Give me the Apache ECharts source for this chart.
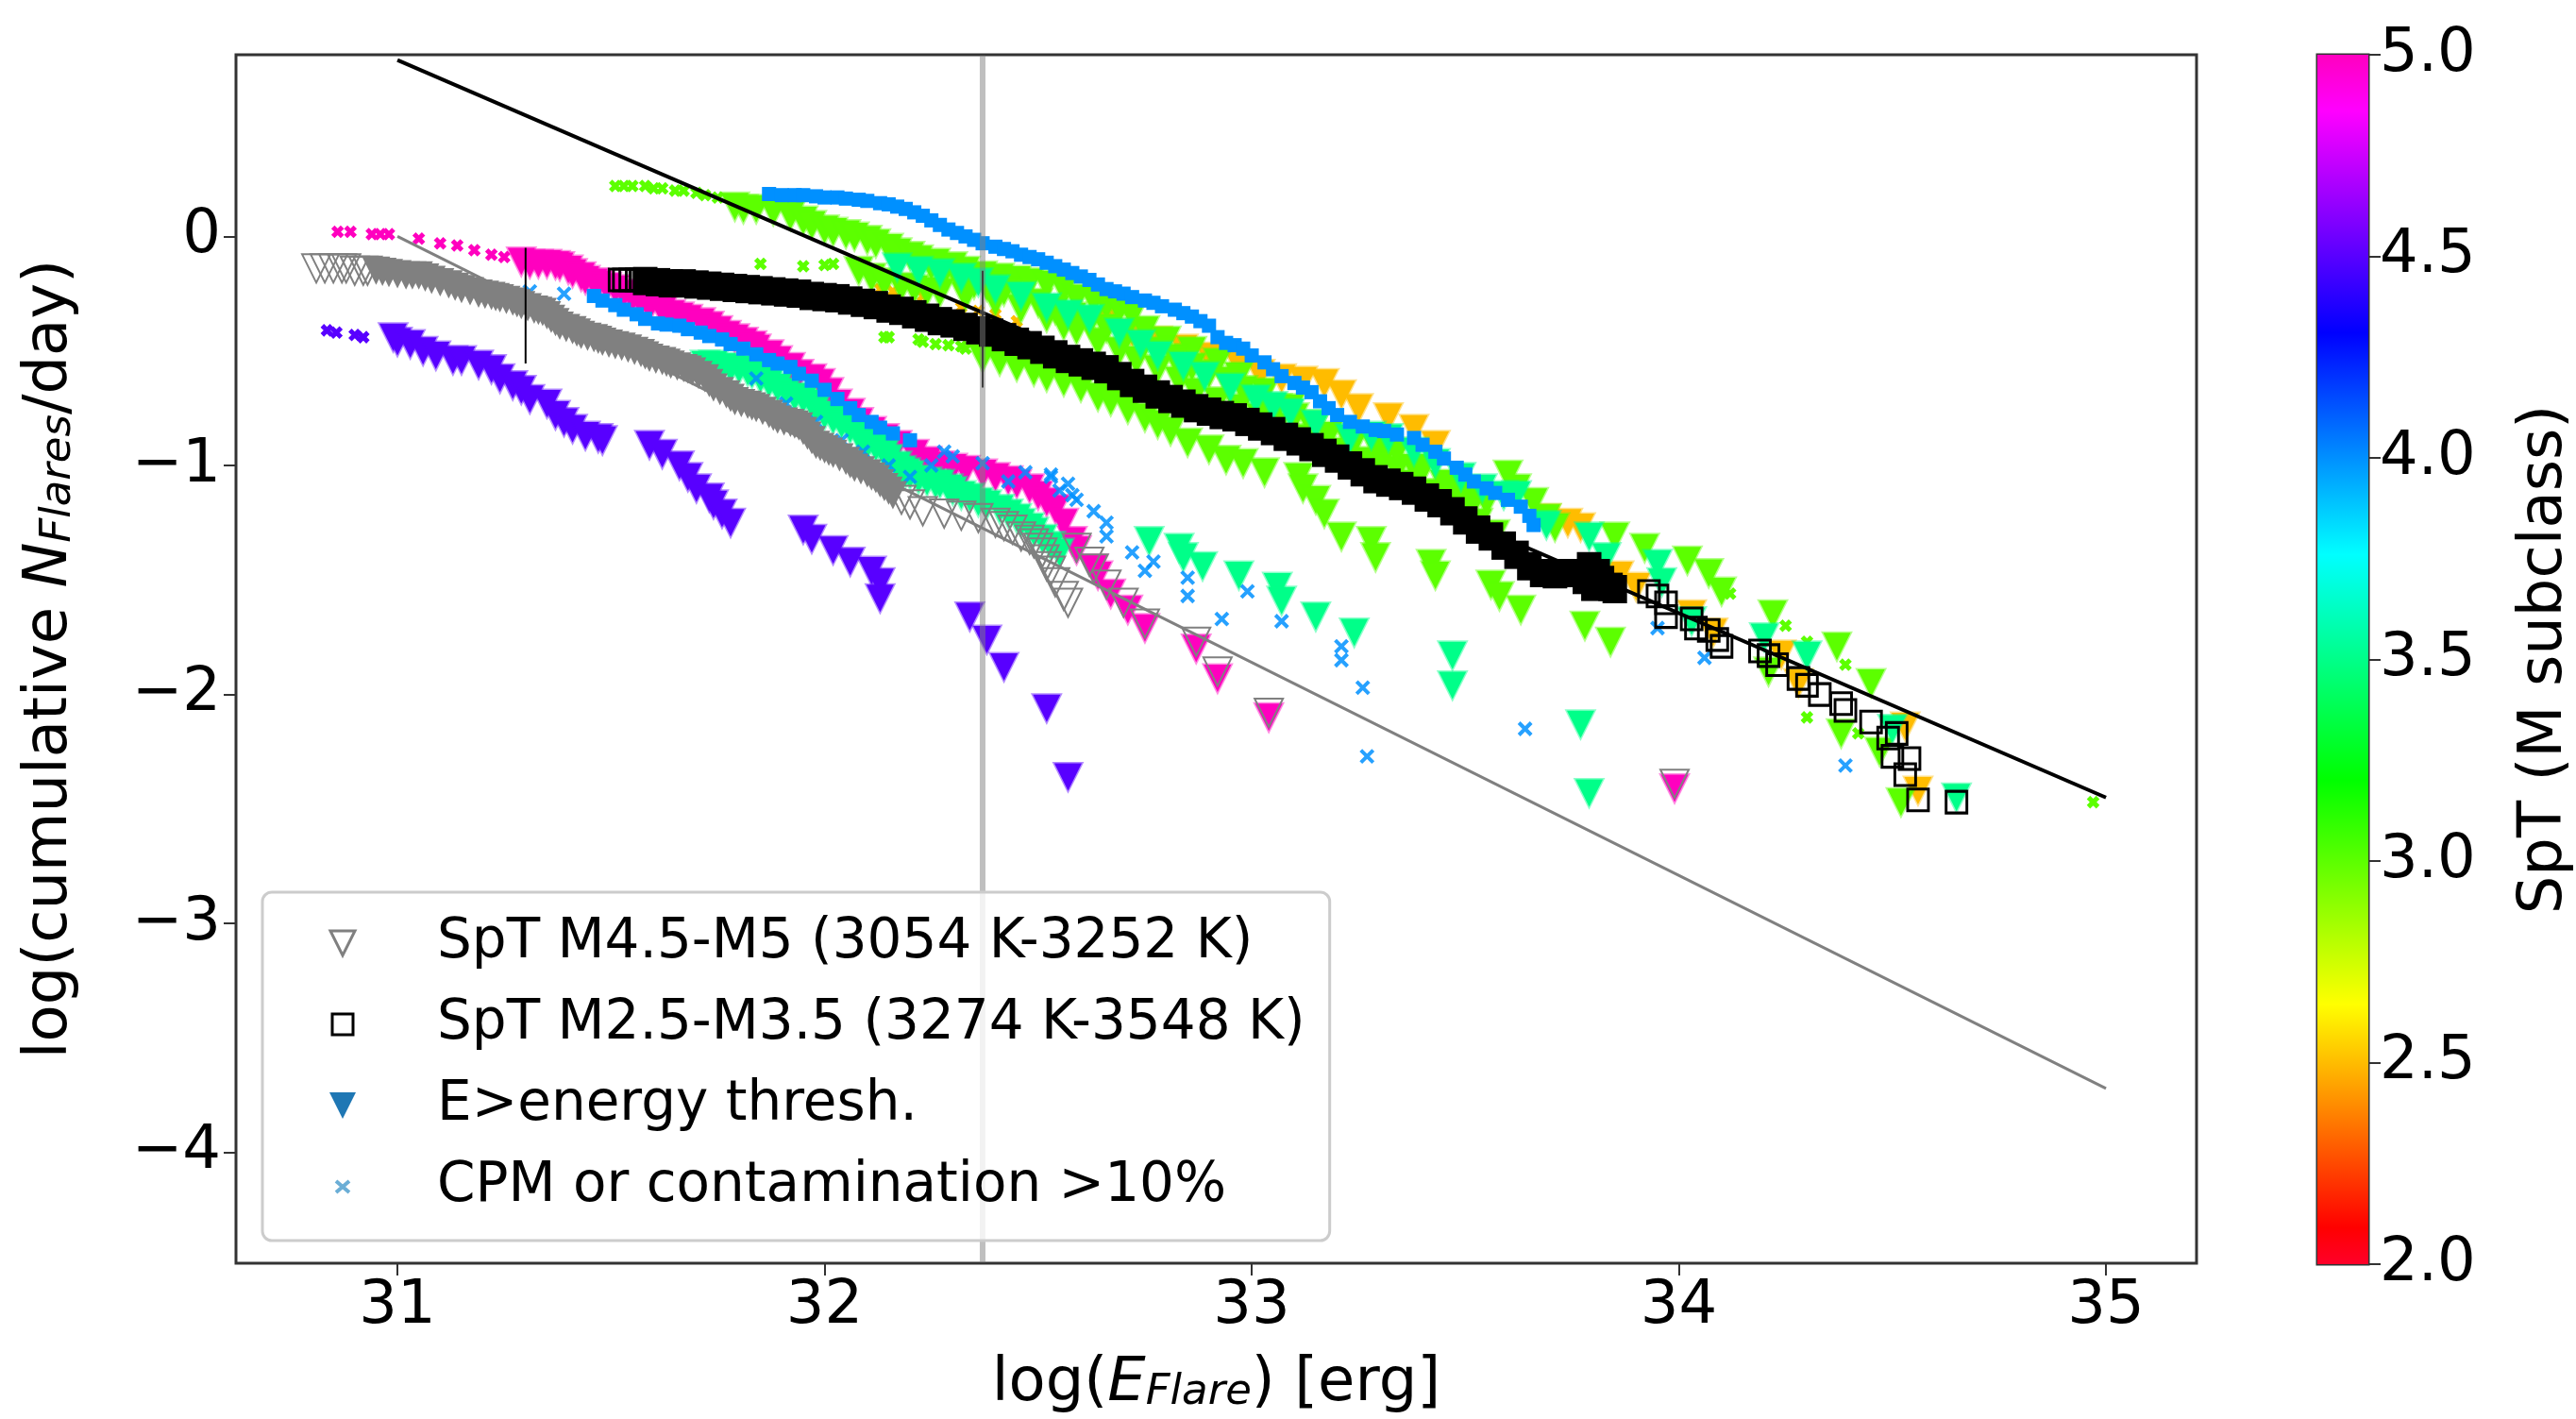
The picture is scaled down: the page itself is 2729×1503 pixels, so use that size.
<!DOCTYPE html>
<html><head><meta charset="utf-8">
<style>html,body{margin:0;padding:0;background:#fff}#c{width:2729px;height:1503px}</style>
<script src="https://cdn.jsdelivr.net/npm/echarts@6/dist/echarts.min.js"></script>
</head><body><div id="c"></div>
<script>
// --- colour scale (SpT -> colour), anchors
const cbarStops=[[2.0,[255,0,41]],[2.09,[255,0,0]],[2.645,[255,255,0]],[3.2,[0,255,0]],[3.76,[0,255,255]],[4.31,[0,0,255]],[4.86,[255,0,255]],[5.0,[255,0,191]]];
const xTicks=[31,32,33,34,35];
const yTicks=[0,-1,-2,-3,-4];
const cbarTicks=[2,2.5,3,3.5,4,4.5,5];

// --- reference lines
const blackLine=[[31,0.77],[35,-2.45]];
const grayLine=[[31,0.0],[35,-3.72]];
const threshLine=[[32.37,-4.48],[32.37,0.79]];
const errLeft=[[31.30,-0.05],[31.30,-0.555]];
const errRight=[[32.37,-0.15],[32.37,-0.66]];

// --- M4.5 points
const m45Tri=[[30.99,-0.44],[31.00,-0.46],[31.03,-0.47],[31.06,-0.50],[31.09,-0.52],[31.13,-0.54],[31.15,-0.54],[31.19,-0.56],[31.22,-0.58],[31.24,-0.62],[31.27,-0.65],[31.29,-0.67],[31.31,-0.71],[31.35,-0.73],[31.37,-0.78],[31.39,-0.81],[31.41,-0.84],[31.44,-0.87],[31.47,-0.88],[31.48,-0.89],[31.59,-0.91],[31.62,-0.95],[31.66,-1.00],[31.68,-1.05],[31.70,-1.10],[31.73,-1.14],[31.74,-1.17],[31.76,-1.21],[31.78,-1.25],[31.95,-1.28],[31.97,-1.32],[32.02,-1.37],[32.06,-1.42],[32.11,-1.46],[32.13,-1.51],[32.13,-1.58],[32.34,-1.66],[32.38,-1.76],[32.42,-1.88],[32.52,-2.06],[32.57,-2.36]];
const m45X=[[30.835,-0.41],[30.857,-0.42],[30.90,-0.43],[30.92,-0.44]];
// --- M5 points
const m5X=[[30.86,0.02],[30.89,0.02],[30.94,0.01],[30.96,0.01],[30.98,0.01],[31.05,-0.01],[31.10,-0.03],[31.14,-0.04],[31.18,-0.06],[31.22,-0.08],[31.25,-0.09]];
const m5Tri=[[31.29,-0.11],[31.31,-0.12],[31.35,-0.12],[31.38,-0.13],[31.41,-0.16],[31.44,-0.19],[31.47,-0.21],[31.51,-0.23],[31.55,-0.27],[31.59,-0.31],[31.64,-0.34],[31.68,-0.36],[31.73,-0.39],[31.77,-0.43],[31.81,-0.46],[31.84,-0.49],[31.89,-0.54],[31.94,-0.60],[31.99,-0.64],[32.03,-0.73],[32.08,-0.81],[32.14,-0.88],[32.21,-0.95],[32.27,-1.00],[32.33,-1.02],[32.40,-1.05],[32.45,-1.08],[32.50,-1.13],[32.54,-1.19],[32.56,-1.25],[32.58,-1.33],[32.59,-1.37],[32.63,-1.45],[32.64,-1.48],[32.67,-1.56],[32.71,-1.63],[32.75,-1.71],[32.87,-1.80],[32.92,-1.93],[33.04,-2.10],[33.99,-2.41]];
const m5Tri2=[[31.33,-0.12],[31.37,-0.125],[31.40,-0.145],[31.43,-0.175],[31.46,-0.20],[31.49,-0.22],[31.53,-0.25],[31.57,-0.29],[31.62,-0.325],[31.66,-0.35],[31.71,-0.375],[31.75,-0.41],[31.79,-0.445],[31.83,-0.475],[31.87,-0.515],[31.92,-0.57],[31.97,-0.62],[32.01,-0.68],[32.06,-0.77],[32.11,-0.85],[32.17,-0.91],[32.24,-0.98],[32.30,-1.01],[32.37,-1.035],[32.43,-1.065],[32.48,-1.10],[32.52,-1.16]];
// --- M3.5 points
const m35Tri=[[31.72,-0.56],[31.76,-0.57],[31.80,-0.58],[31.83,-0.60],[31.87,-0.64],[31.91,-0.68],[31.95,-0.71],[31.98,-0.75],[32.02,-0.80],[32.06,-0.84],[32.09,-0.90],[32.12,-0.92],[32.15,-0.97],[32.18,-1.02],[32.20,-1.04],[32.24,-1.07],[32.27,-1.08],[32.30,-1.11],[32.34,-1.14],[32.38,-1.17],[32.43,-1.21],[32.46,-1.25],[32.49,-1.29],[32.53,-1.35],[32.55,-1.38],[32.76,-1.33],[32.83,-1.36],[32.84,-1.40],[32.885,-1.44],[32.97,-1.48],[33.06,-1.53],[33.07,-1.59],[33.15,-1.66],[33.24,-1.73],[33.47,-1.83],[33.47,-1.96],[33.77,-2.13],[33.79,-2.43]];
const m35Tri2=[[31.74,-0.56],[31.78,-0.575],[31.82,-0.59],[31.85,-0.62],[31.89,-0.66],[31.93,-0.70],[31.97,-0.73],[32.00,-0.78],[32.04,-0.82],[32.08,-0.87],[32.10,-0.91],[32.14,-0.95],[32.17,-1.00],[32.19,-1.03],[32.22,-1.06],[32.26,-1.08],[32.29,-1.10],[32.32,-1.13],[32.36,-1.16],[32.41,-1.19],[32.45,-1.23],[32.48,-1.27],[32.51,-1.32]];
const m35TriUpper=[[32.17,-0.135],[32.22,-0.15],[32.27,-0.16],[32.32,-0.18],[32.36,-0.20],[32.40,-0.23],[32.46,-0.26],[32.52,-0.31],[32.57,-0.34],[32.62,-0.36],[32.69,-0.42],[32.74,-0.47],[32.78,-0.52],[32.84,-0.565],[32.89,-0.61],[32.95,-0.66],[33.01,-0.71],[33.05,-0.74],[33.09,-0.77],[33.15,-0.82],[33.23,-0.88],[33.28,-0.87],[33.32,-0.88],[33.38,-0.94],[33.43,-0.99],[33.49,-1.05],[33.54,-1.10],[33.59,-1.13],[33.62,-1.13],[33.69,-1.26],[33.79,-1.31],[33.83,-1.40],[33.95,-1.43],[33.96,-1.51],[34.03,-1.68],[34.20,-1.75],[34.30,-1.83],[34.50,-2.15],[34.65,-2.45]];
// --- M3 points
const m3X=[[31.51,0.22],[31.53,0.22],[31.55,0.22],[31.58,0.22],[31.60,0.21],[31.62,0.21],[31.65,0.20],[31.67,0.20],[31.70,0.19],[31.72,0.18],[31.75,0.17],[31.85,-0.12],[31.95,-0.13],[32.00,-0.125],[32.02,-0.12],[32.14,-0.44],[32.15,-0.44],[32.22,-0.45],[32.23,-0.46],[32.26,-0.47],[32.29,-0.475],[32.32,-0.48],[32.33,-0.49],[34.25,-1.70],[34.30,-1.77],[34.39,-1.87],[34.30,-2.10],[34.12,-1.56],[34.42,-2.17],[34.97,-2.47]];
const m3TriTop=[[31.79,0.13],[31.81,0.12],[31.84,0.12],[31.88,0.11],[31.92,0.09],[31.95,0.07],[31.97,0.05],[32.00,0.03],[32.02,0.02],[32.05,0.01],[32.07,0.0],[32.10,-0.015],[32.12,-0.03],[32.15,-0.05],[32.17,-0.07],[32.20,-0.085],[32.22,-0.10],[32.26,-0.115],[32.30,-0.13],[32.33,-0.15],[32.37,-0.17],[32.41,-0.18],[32.45,-0.19],[32.48,-0.20],[32.52,-0.21],[32.56,-0.23],[32.59,-0.27],[32.63,-0.28],[32.66,-0.30],[32.69,-0.32],[32.72,-0.345],[32.75,-0.41],[32.80,-0.455],[32.86,-0.50],[32.92,-0.55],[32.97,-0.61],[33.03,-0.68],[33.09,-0.75],[33.15,-0.82],[33.23,-0.90],[33.31,-0.93],[33.38,-1.01],[33.46,-1.085],[33.52,-1.16],[33.60,-1.04],[33.62,-1.10],[33.66,-1.16],[33.69,-1.23],[33.71,-1.27]];
const m3TriFill=[[32.25,-0.13],[32.28,-0.16],[32.31,-0.17],[32.35,-0.21],[32.38,-0.22],[32.42,-0.24],[32.46,-0.27],[32.50,-0.29],[32.54,-0.32],[32.58,-0.35],[32.62,-0.38],[32.66,-0.40],[32.70,-0.43],[32.74,-0.47],[32.78,-0.50],[32.82,-0.53],[32.86,-0.57],[32.90,-0.60],[32.94,-0.63],[32.98,-0.67],[33.02,-0.71],[33.06,-0.75],[33.10,-0.79],[33.14,-0.83],[33.18,-0.87],[33.22,-0.95],[33.26,-0.98],[33.30,-1.00],[33.34,-1.02],[33.38,-1.08],[33.42,-1.12],[33.46,-1.15],[33.50,-1.20],[33.53,-1.25],[33.57,-1.30]];
const m3TriMid=[[32.08,-0.15],[32.11,-0.18],[32.14,-0.20],[32.18,-0.22],[32.21,-0.23],[32.24,-0.24],[32.27,-0.245],[32.33,-0.26],[32.40,-0.285],[32.46,-0.315],[32.52,-0.355],[32.56,-0.39],[32.59,-0.41],[32.64,-0.46],[32.69,-0.50],[32.73,-0.54],[32.78,-0.58],[32.83,-0.63],[32.87,-0.68],[32.92,-0.72],[32.97,-0.75],[33.02,-0.79],[33.06,-0.83],[33.12,-0.88],[33.18,-0.94],[33.24,-0.90],[33.29,-0.92],[33.34,-0.94],[33.40,-1.02],[33.45,-1.08],[33.49,-1.13],[33.55,-1.16]];
const m3TriLow=[[32.37,-0.53],[32.41,-0.545],[32.45,-0.57],[32.49,-0.59],[32.52,-0.615],[32.56,-0.635],[32.60,-0.66],[32.64,-0.70],[32.67,-0.72],[32.71,-0.755],[32.75,-0.79],[32.78,-0.82],[32.81,-0.85],[32.85,-0.90],[32.90,-0.93],[32.94,-0.975],[32.98,-0.99],[33.03,-1.03],[33.11,-1.05],[33.12,-1.10],[33.15,-1.15],[33.17,-1.21],[33.21,-1.31],[33.28,-1.33],[33.29,-1.40],[33.42,-1.43],[33.43,-1.48],[33.56,-1.52],[33.58,-1.57],[33.63,-1.63],[33.78,-1.70],[33.84,-1.77],[33.85,-1.31],[33.92,-1.36],[34.02,-1.415],[34.07,-1.47],[34.10,-1.55],[34.22,-1.65],[34.37,-1.79],[34.45,-1.95],[34.38,-2.17],[34.52,-2.47],[34.21,-1.90],[34.47,-2.25]];
// --- M2.5 points
const m25X=[[32.13,-0.23],[32.16,-0.24],[32.23,-0.26],[32.32,-0.31],[32.36,-0.325],[32.40,-0.34],[32.45,-0.37]];
const m25Tri=[[32.66,-0.37],[32.72,-0.42],[32.78,-0.455],[32.84,-0.49],[32.90,-0.525],[32.97,-0.56],[33.02,-0.60],[33.07,-0.62],[33.12,-0.63],[33.17,-0.64],[33.21,-0.69],[33.25,-0.75],[33.32,-0.79],[33.38,-0.84],[33.43,-0.91],[33.69,-1.23],[33.74,-1.25],[33.77,-1.27],[33.86,-1.48],[33.90,-1.53],[34.03,-1.65],[34.08,-1.73],[34.24,-1.825],[34.28,-1.95],[34.53,-2.14],[34.56,-2.42]];
// --- M4 points: dense contaminated runs and the isolated crosses
const m4Band=[[31.87,0.185],[31.90,0.18],[31.93,0.18],[31.95,0.18],[31.98,0.175],[32.00,0.17],[32.03,0.17],[32.05,0.165],[32.08,0.16],[32.10,0.155],[32.13,0.145],[32.15,0.14],[32.17,0.13],[32.19,0.12],[32.21,0.105],[32.23,0.09],[32.25,0.07],[32.27,0.05],[32.29,0.03],[32.31,0.015],[32.33,0.0],[32.35,-0.015],[32.37,-0.03],[32.40,-0.045],[32.42,-0.055],[32.44,-0.065],[32.46,-0.08],[32.48,-0.09],[32.50,-0.10],[32.52,-0.115],[32.54,-0.13],[32.56,-0.145],[32.58,-0.16],[32.60,-0.175],[32.62,-0.19],[32.64,-0.21],[32.66,-0.23],[32.68,-0.24],[32.70,-0.25],[32.72,-0.265],[32.75,-0.28],[32.77,-0.29],[32.79,-0.305],[32.82,-0.32],[32.84,-0.335],[32.86,-0.35],[32.88,-0.37],[32.90,-0.39],[32.92,-0.44],[32.94,-0.465],[32.96,-0.475],[32.98,-0.49],[33.00,-0.52],[33.03,-0.55],[33.05,-0.58],[33.07,-0.61],[33.10,-0.64],[33.12,-0.66],[33.14,-0.68],[33.16,-0.72],[33.18,-0.75],[33.20,-0.78],[33.23,-0.81],[33.26,-0.83],[33.29,-0.845],[33.31,-0.85],[33.34,-0.865],[33.38,-0.88],[33.40,-0.91],[33.43,-0.94],[33.45,-0.97],[33.48,-1.01],[33.50,-1.04],[33.52,-1.07],[33.55,-1.10],[33.57,-1.12],[33.60,-1.15],[33.63,-1.18],[33.65,-1.22],[33.66,-1.26]];
const m4BandLow=[[31.46,-0.26],[31.48,-0.28],[31.51,-0.30],[31.53,-0.32],[31.56,-0.34],[31.58,-0.36],[31.61,-0.38],[31.63,-0.385],[31.66,-0.39],[31.68,-0.405],[31.71,-0.42],[31.73,-0.435],[31.76,-0.45],[31.78,-0.47],[31.81,-0.49],[31.84,-0.515],[31.87,-0.54],[31.89,-0.555],[31.92,-0.57],[31.94,-0.60],[31.97,-0.63],[32.00,-0.67],[32.03,-0.71],[32.06,-0.75],[32.08,-0.78],[32.11,-0.81],[32.13,-0.835],[32.16,-0.86],[32.20,-0.89]];
const m4X=[[31.31,-0.24],[31.39,-0.25],[31.84,-0.62],[31.91,-0.73],[31.98,-0.81],[32.04,-0.89],[32.09,-0.94],[32.15,-1.00],[32.20,-1.05],[32.25,-1.00],[32.28,-0.94],[32.30,-0.96],[32.37,-0.99],[32.43,-1.07],[32.47,-1.03],[32.53,-1.05],[32.55,-1.11],[32.58,-1.13],[32.53,-1.04],[32.57,-1.08],[32.59,-1.15],[32.63,-1.20],[32.66,-1.25],[32.66,-1.31],[32.72,-1.38],[32.77,-1.42],[32.75,-1.46],[32.85,-1.49],[32.85,-1.57],[32.99,-1.55],[32.93,-1.67],[33.07,-1.68],[33.21,-1.79],[33.21,-1.85],[33.26,-1.97],[33.64,-2.15],[33.27,-2.27],[34.39,-2.31],[34.06,-1.84],[33.95,-1.71]];
// --- hollow triangles, SpT M4.5-M5 (dense solid run, then the open ones)
const grayDense=[[30.95,-0.15],[30.98,-0.16],[31.02,-0.17],[31.05,-0.17],[31.08,-0.19],[31.12,-0.21],[31.15,-0.23],[31.19,-0.25],[31.22,-0.26],[31.24,-0.27],[31.27,-0.285],[31.29,-0.30],[31.32,-0.32],[31.34,-0.33],[31.36,-0.36],[31.38,-0.39],[31.41,-0.41],[31.43,-0.43],[31.46,-0.445],[31.48,-0.46],[31.51,-0.475],[31.54,-0.49],[31.57,-0.51],[31.59,-0.53],[31.62,-0.545],[31.64,-0.56],[31.67,-0.575],[31.69,-0.59],[31.72,-0.62],[31.74,-0.66],[31.77,-0.69],[31.79,-0.72],[31.82,-0.735],[31.84,-0.75],[31.87,-0.775],[31.89,-0.80],[31.92,-0.815],[31.94,-0.83],[31.96,-0.87],[31.98,-0.91],[32.00,-0.93],[32.02,-0.95],[32.05,-0.98],[32.07,-1.01],[32.10,-1.035],[32.12,-1.06],[32.14,-1.095],[32.16,-1.13]];
const grayDense2=[[30.965,-0.155],[31.00,-0.165],[31.035,-0.17],[31.065,-0.18],[31.10,-0.20],[31.135,-0.22],[31.17,-0.24],[31.205,-0.255],[31.23,-0.265],[31.255,-0.278],[31.28,-0.292],[31.305,-0.31],[31.33,-0.325],[31.35,-0.345],[31.37,-0.375],[31.395,-0.40],[31.42,-0.42],[31.445,-0.438],[31.47,-0.452],[31.495,-0.468],[31.525,-0.482],[31.555,-0.50],[31.58,-0.52],[31.605,-0.538],[31.63,-0.552],[31.655,-0.568],[31.68,-0.582],[31.705,-0.605],[31.73,-0.64],[31.755,-0.675],[31.78,-0.705],[31.805,-0.728],[31.83,-0.742],[31.855,-0.762],[31.88,-0.788],[31.905,-0.808],[31.93,-0.822],[31.95,-0.85],[31.97,-0.89],[31.99,-0.92],[32.01,-0.94],[32.035,-0.965],[32.06,-0.995],[32.085,-1.022],[32.11,-1.048],[32.13,-1.078],[32.15,-1.11]];
const grayOpen=[[30.81,-0.14],[30.83,-0.14],[30.85,-0.14],[30.87,-0.14],[30.88,-0.14],[30.90,-0.15],[30.92,-0.15],[30.93,-0.15],[32.18,-1.15],[32.20,-1.17],[32.23,-1.20],[32.28,-1.21],[32.32,-1.22],[32.36,-1.23],[32.40,-1.25],[32.42,-1.265],[32.44,-1.28],[32.46,-1.31],[32.48,-1.325],[32.49,-1.34],[32.50,-1.36],[32.51,-1.38],[32.515,-1.41],[32.52,-1.44],[32.53,-1.46],[32.54,-1.51],[32.56,-1.57],[32.57,-1.60],[32.59,-1.36],[32.62,-1.42],[32.63,-1.45],[32.66,-1.52],[32.70,-1.60],[32.75,-1.69],[32.87,-1.77],[32.92,-1.90],[33.04,-2.08],[33.99,-2.39]];
// --- open squares, SpT M2.5-M3.5 (dense solid run, then the open ones)
const blackDense=[[31.58,-0.195],[31.61,-0.20],[31.64,-0.205],[31.67,-0.205],[31.70,-0.21],[31.73,-0.215],[31.76,-0.22],[31.79,-0.225],[31.82,-0.23],[31.85,-0.235],[31.88,-0.24],[31.91,-0.245],[31.94,-0.25],[31.97,-0.26],[32.00,-0.265],[32.03,-0.27],[32.06,-0.28],[32.09,-0.29],[32.12,-0.30],[32.15,-0.315],[32.18,-0.325],[32.21,-0.34],[32.24,-0.355],[32.27,-0.37],[32.30,-0.38],[32.33,-0.395],[32.36,-0.41],[32.39,-0.42],[32.42,-0.44],[32.45,-0.46],[32.48,-0.475],[32.51,-0.495],[32.54,-0.515],[32.57,-0.535],[32.60,-0.55],[32.63,-0.565],[32.66,-0.58],[32.69,-0.61],[32.72,-0.64],[32.75,-0.665],[32.78,-0.69],[32.81,-0.71],[32.84,-0.73],[32.87,-0.75],[32.90,-0.765],[32.93,-0.78],[32.96,-0.79],[32.99,-0.81],[33.02,-0.83],[33.05,-0.85],[33.08,-0.875],[33.11,-0.895],[33.14,-0.92],[33.17,-0.945],[33.20,-0.97],[33.23,-1.00],[33.26,-1.03],[33.29,-1.06],[33.32,-1.075],[33.35,-1.09],[33.38,-1.11],[33.41,-1.14],[33.44,-1.165],[33.47,-1.20],[33.50,-1.24],[33.53,-1.28],[33.56,-1.31],[33.59,-1.35],[33.62,-1.39],[33.65,-1.44],[33.68,-1.47],[33.71,-1.475],[33.74,-1.47],[33.77,-1.47],[33.79,-1.44],[33.81,-1.47],[33.82,-1.50],[33.84,-1.53],[33.85,-1.54],[33.80,-1.53],[33.78,-1.50]];
const blackOpen=[[31.52,-0.19],[31.53,-0.19],[31.545,-0.19],[31.56,-0.19],[31.57,-0.19],[33.93,-1.55],[33.95,-1.57],[33.97,-1.60],[33.97,-1.66],[34.03,-1.67],[34.04,-1.71],[34.07,-1.72],[34.09,-1.76],[34.10,-1.79],[34.19,-1.81],[34.21,-1.83],[34.23,-1.87],[34.28,-1.93],[34.30,-1.96],[34.33,-2.00],[34.38,-2.04],[34.39,-2.07],[34.45,-2.12],[34.49,-2.19],[34.51,-2.17],[34.54,-2.28],[34.50,-2.27],[34.53,-2.35],[34.56,-2.46],[34.65,-2.47]];

const legendNames=['SpT M4.5-M5 (3054 K-3252 K)','SpT M2.5-M3.5 (3274 K-3548 K)','E>energy thresh.','CPM or contamination >10%'];

function sptColor(v){
  for(let i=1;i<cbarStops.length;i++){
    const a=cbarStops[i-1],b=cbarStops[i];
    if(v<=b[0]){const t=(v-a[0])/(b[0]-a[0]);
      return a[1].map((c,k)=>Math.round(c+(b[1][k]-c)*t));}
  }
  return cbarStops[cbarStops.length-1][1];
}
const rgb=(c,a)=>a==null?`rgb(${c.join(',')})`:`rgba(${c.join(',')},${a})`;
const TRI='path://M0,0L10,0L5,10Z';
const CROSS='path://M0,0L10,10M10,0L0,10';
const SQUARE='path://M0,0L10,0L10,10L0,10Z';

function tri(data,spt,z){const c=sptColor(spt);return {type:'scatter',data,z,symbol:TRI,symbolSize:[29,29],silent:true,animation:false,
  itemStyle:{opacity:1,color:rgb(c),borderColor:rgb(c,0.45),borderWidth:3}};}
function cross(data,spt,z,size){const c=sptColor(spt);return {type:'scatter',data,z,symbol:CROSS,symbolSize:size||13,silent:true,animation:false,
  itemStyle:{opacity:spt===4?0.85:1,color:'rgba(0,0,0,0)',borderColor:rgb(c),borderWidth:size?5:4}};}
function block(data,spt,z){const c=sptColor(spt);return {type:'scatter',data,z,symbol:'rect',symbolSize:15,silent:true,animation:false,itemStyle:{opacity:1,color:rgb(c)}};}
function line(data,color,width,z){return {type:'line',data,z,symbol:'none',silent:true,animation:false,lineStyle:{color,width,cap:'butt',opacity:1},itemStyle:{color}};}
const grayFill=(data)=>({type:'scatter',name:legendNames[0],data,z:7,symbol:TRI,symbolSize:[30,30],silent:true,animation:false,itemStyle:{opacity:1,color:'#808080'}});

const series=[
  cross(m25X,2.5,2,10),tri(m25Tri,2.5,2),
  cross(m3X,3,3,10),tri(m3TriTop,3,3),tri(m3TriFill,3,3),tri(m3TriMid,3,3),tri(m3TriLow,3,3),
  cross(m5X,5,4,10),tri(m5Tri,5,4),tri(m5Tri2,5,4),
  cross(m45X,4.5,4,10),tri(m45Tri,4.5,4),
  tri(m35Tri,3.5,5),tri(m35Tri2,3.5,5),tri(m35TriUpper,3.5,5),
  block(m4Band,4,6),block(m4BandLow,4,6),cross(m4X,4,6),
  grayFill(grayDense),grayFill(grayDense2),
  {type:'scatter',name:legendNames[0],data:grayOpen,z:7,symbol:TRI,symbolSize:[30,30],silent:true,animation:false,itemStyle:{opacity:1,color:'rgba(255,255,255,0)',borderColor:'#808080',borderWidth:2}},
  {type:'scatter',name:legendNames[1],data:blackDense,z:8,symbol:'rect',symbolSize:[26,30],silent:true,animation:false,itemStyle:{opacity:1,color:'#000'}},
  {type:'scatter',name:legendNames[1],data:blackOpen,z:8,symbol:SQUARE,symbolSize:[22,23],silent:true,animation:false,itemStyle:{opacity:1,color:'rgba(255,255,255,0)',borderColor:'#000',borderWidth:3}},
  {type:'scatter',name:legendNames[2],data:[],z:1,symbol:TRI,itemStyle:{opacity:1,color:'#1f77b4'}},
  {type:'scatter',name:legendNames[3],data:[],z:1,symbol:CROSS,itemStyle:{opacity:1,color:'#6baed6'}},
  line(grayLine,'#808080',3,9),
  line(blackLine,'#000',4,9),
  line(errLeft,'#000',2,9),
  line(errRight,'#000',2,9),
  line(threshLine,'rgba(128,128,128,0.5)',6,10),
  {type:'bar',xAxisIndex:1,yAxisIndex:1,data:[5],barWidth:'100%',silent:true,animation:false,
    itemStyle:{color:new echarts.graphic.LinearGradient(0,1,0,0,cbarStops.map(s=>({offset:(s[0]-2)/3,color:rgb(s[1])})))}}
];

const FONT='DejaVu Sans';
const fs=64;
const sub=45;
const chart=echarts.init(document.getElementById('c'),null,{renderer:'canvas'});
const axisCommon={axisLine:{show:false,onZero:false},splitLine:{show:false},axisTick:{show:true,length:13,lineStyle:{color:'#333',width:2}}};
const titleRich={a:{fontFamily:FONT,fontSize:fs,color:'#000'},i:{fontFamily:FONT,fontStyle:'italic',fontSize:fs,color:'#000'},s:{fontFamily:FONT,fontStyle:'italic',fontSize:sub,color:'#000',verticalAlign:'bottom',lineHeight:64}};
chart.setOption({
  animation:false,backgroundColor:'#fff',
  grid:[{left:250,top:58,width:2077,height:1282,show:true,borderColor:'#333',borderWidth:3,backgroundColor:'#fff',containLabel:false},
        {left:2455,top:58,width:63,height:1281,show:true,borderColor:'#333',borderWidth:3,containLabel:false}],
  xAxis:[{type:'value',gridIndex:0,min:30.622,max:35.212,...axisCommon,
      axisTick:{...axisCommon.axisTick,customValues:xTicks},
      axisLabel:{customValues:xTicks,fontFamily:FONT,fontSize:fs,color:'#000',margin:14},
      name:'{a|log(}{i|E}{s|Flare}{a|) [erg]}',nameLocation:'middle',nameGap:96,
      nameTextStyle:{rich:titleRich}},
    {type:'category',gridIndex:1,data:['SpT'],show:false}],
  yAxis:[{type:'value',gridIndex:0,min:-4.483,max:0.793,...axisCommon,
      axisTick:{...axisCommon.axisTick,customValues:yTicks},
      axisLabel:{customValues:yTicks,fontFamily:FONT,fontSize:fs,color:'#000',margin:16,formatter:v=>String(v).replace('-','\u2212')},
      name:'{a|log(cumulative }{i|N}{s|Flares}{a|/day)}',nameLocation:'middle',nameRotate:90,nameGap:165,
      nameTextStyle:{rich:titleRich}},
    {type:'value',gridIndex:1,position:'right',min:2,max:5,...axisCommon,
      axisTick:{...axisCommon.axisTick,customValues:cbarTicks},
      axisLabel:{customValues:cbarTicks,fontFamily:FONT,fontSize:fs,color:'#000',margin:12,formatter:v=>v.toFixed(1)},
      name:'SpT (M subclass)',nameLocation:'middle',nameRotate:90,nameGap:155,
      nameTextStyle:{fontFamily:FONT,fontSize:fs,color:'#000'}}],
  legend:{show:true,left:278,top:945,orient:'vertical',z:20,
    backgroundColor:'rgba(255,255,255,0.8)',borderColor:'#ccc',borderWidth:3,borderRadius:10,
    padding:[25,26,28,68],itemGap:28,itemWidth:30,itemHeight:30,selectedMode:false,
    textStyle:{fontFamily:FONT,fontSize:58,color:'#000',padding:[0,0,0,80]},
    data:[
      {name:legendNames[0],icon:'path://M0,0M30,30M2,2L28,2L15,28Z',itemStyle:{opacity:1,color:'rgba(255,255,255,0)',borderColor:'#808080',borderWidth:3}},
      {name:legendNames[1],icon:'path://M0,0M30,30M4,4L26,4L26,26L4,26Z',itemStyle:{opacity:1,color:'rgba(255,255,255,0)',borderColor:'#000',borderWidth:3}},
      {name:legendNames[2],icon:'path://M0,0M30,30M1,1L29,1L15,29Z',itemStyle:{opacity:1,color:'#1f77b4',borderWidth:0}},
      {name:legendNames[3],icon:'path://M0,0M30,30M8,9L22,21M22,9L8,21',itemStyle:{opacity:1,color:'rgba(0,0,0,0)',borderColor:'#6baed6',borderWidth:4}}
    ]},
  series
});
</script></body></html>
